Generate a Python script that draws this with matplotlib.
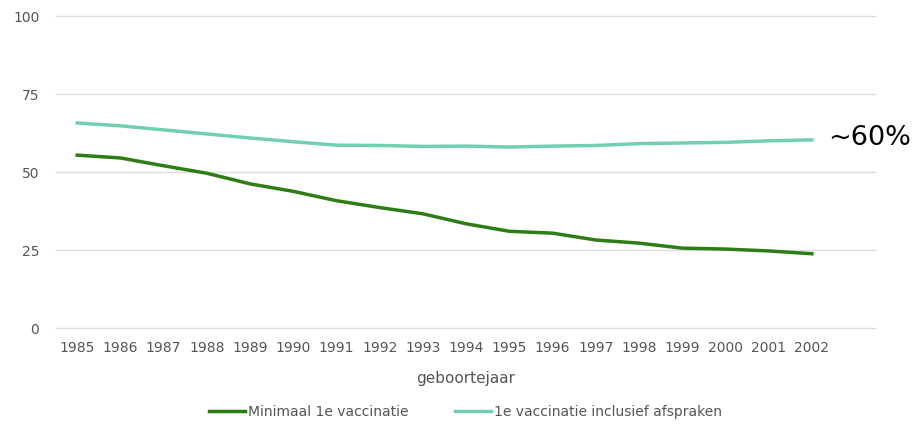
import matplotlib.pyplot as plt

jaren = list(range(1985, 2003))
minimaal = [55.4, 54.5, 52.0, 49.6, 46.2, 43.8, 40.8, 38.6, 36.6, 33.4, 31.0, 30.4, 28.2, 27.2, 25.6, 25.3, 24.7, 23.8]
inclusief = [65.7, 64.8, 63.5, 62.2, 60.9, 59.7, 58.6, 58.5, 58.2, 58.3, 58.0, 58.3, 58.5, 59.1, 59.3, 59.5, 60.0, 60.3]

grijs = '#555555'
fig = plt.figure(figsize=(9.23, 4.26), dpi=100)
ax = fig.add_axes([56 / 923, 1 - 328 / 426, (875 - 56) / 923, (328 - 16) / 426])

ax.plot(jaren, minimaal, color='#2e7d14', lw=2.5, label='Minimaal 1e vaccinatie')
ax.plot(jaren, inclusief, color='#72d0b2', lw=2.5, label='1e vaccinatie inclusief afspraken')

ax.set_xlim(1984.51, 2003.46)
ax.set_ylim(0, 100)
ax.set_yticks([0, 25, 50, 75, 100])
ax.set_xticks(jaren)
ax.grid(axis='y', color='#dddddd', lw=1)
for gl in ax.get_ygridlines():
    gl.set_clip_on(False)
ax.set_axisbelow(True)
for s in ax.spines.values():
    s.set_visible(False)
ax.tick_params(length=0, colors=grijs, labelsize=10)
ax.tick_params(axis='y', pad=12)
ax.tick_params(axis='x', pad=9)
ax.set_xlabel('geboortejaar', color=grijs, fontsize=11, labelpad=12)

ax.text(2002.38, 60.8, '~60%', fontsize=19.5, color='black', va='center', ha='left',
        family='DejaVu Sans', clip_on=False)

ax.legend(loc='center', bbox_to_anchor=(0.5, -0.27), ncol=2, frameon=False,
          fontsize=10, labelcolor=grijs, handlelength=2.6, handletextpad=0.2, columnspacing=3.4)

fig.savefig('out.png', dpi=100)
